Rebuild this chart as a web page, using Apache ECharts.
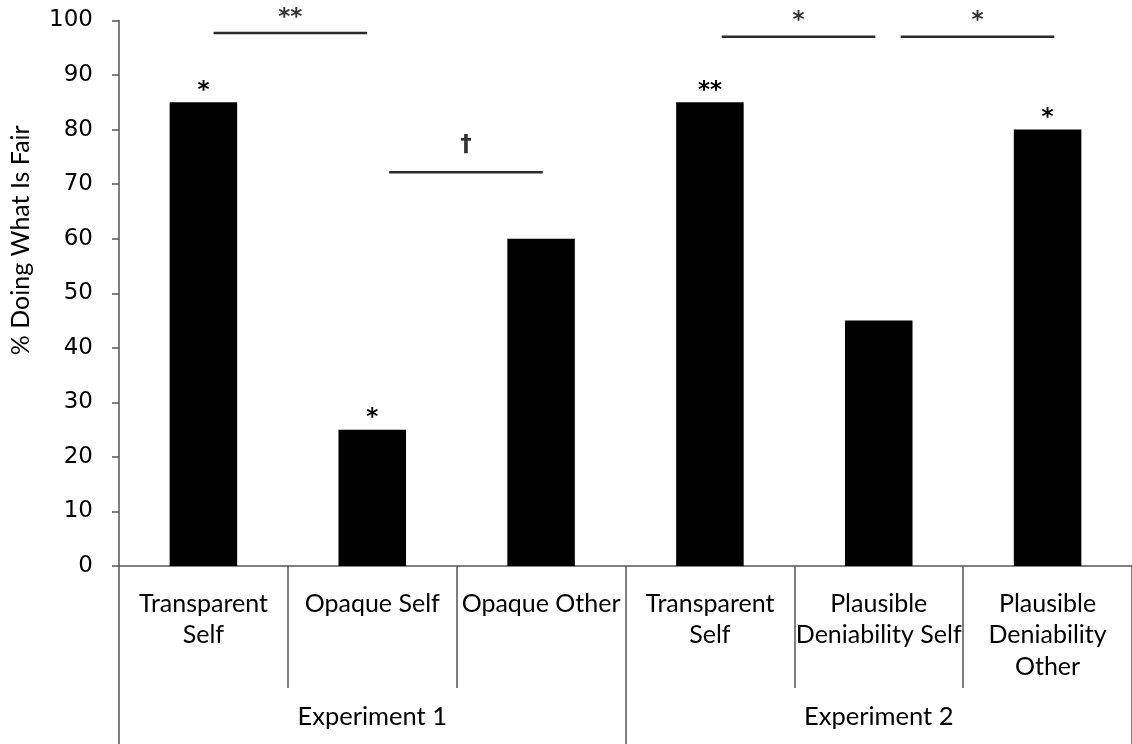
<!DOCTYPE html>
<html>
<head>
<meta charset="utf-8">
<script src="https://cdn.jsdelivr.net/npm/echarts@6/dist/echarts.min.js"></script>
<style>html,body{margin:0;padding:0;background:#fff}#c{width:1132px;height:744px}</style>
</head>
<body>
<div id="c"></div>
<script>
const categories = ['Transparent\nSelf', 'Opaque Self', 'Opaque Other', 'Transparent\nSelf', 'Plausible\nDeniability Self', 'Plausible\nDeniability\nOther'];
const groups = ['Experiment 1', 'Experiment 2'];
const values = [85, 25, 60, 85, 45, 80];
const barMarks = ['*', '*', '', '**', '', '*'];
const sigFrom = [0.06, 1.10, 3.07, 4.13];
const sigTo = [0.97, 2.01, 3.98, 5.04];
const sigY = [97.7, 72.2, 97.0, 97.0];
const sigMarks = ['**', '\u2020', '*', '*'];
const yAxisTitle = '% Doing What Is Fair';

const labelFont = 'Lato, "Open Sans", sans-serif';
const chart = echarts.init(document.getElementById('c'));

const sigLineSeries = sigFrom.map((f, i) => ({
  type: 'line', xAxisIndex: 2, yAxisIndex: 0,
  data: [[f, sigY[i]], [sigTo[i], sigY[i]]],
  symbol: 'none', silent: true, animation: false,
  lineStyle: { color: '#2b2b2b', width: 2.5 }
}));

chart.setOption({
  animation: false,
  backgroundColor: '#fff',
  grid: { left: 119, top: 20.5, bottom: 178, width: 1025, containLabel: false },
  xAxis: [
    {
      type: 'category', data: categories, position: 'bottom',
      axisLine: { show: true, onZero: false, lineStyle: { color: '#555', width: 1.5 } },
      axisTick: { show: true, interval: 0, length: 122, lineStyle: { color: '#555', width: 1.5 } },
      axisLabel: { interval: 0, margin: 22, color: '#000', fontFamily: labelFont, fontSize: 25, lineHeight: 31.5, verticalAlign: 'top' },
      splitLine: { show: false }
    },
    {
      type: 'category', data: groups, position: 'bottom',
      axisLine: { show: false, onZero: false },
      axisTick: { show: true, interval: 0, length: 180, lineStyle: { color: '#555', width: 1.5 } },
      axisLabel: { interval: 0, margin: 138, color: '#000', fontFamily: labelFont, fontSize: 25.5, verticalAlign: 'top' },
      splitLine: { show: false }
    },
    { type: 'value', min: -0.5, max: 5.5, show: false }
  ],
  yAxis: {
    type: 'value', min: 0, max: 100, interval: 10,
    name: yAxisTitle, nameLocation: 'middle', nameRotate: 90, nameGap: 86,
    nameTextStyle: { color: '#000', fontFamily: labelFont, fontSize: 25, padding: [0, 0, 0, 106] },
    axisLine: { show: true, onZero: false, lineStyle: { color: '#555', width: 1.5 } },
    axisTick: { show: true, length: 7, lineStyle: { color: '#555', width: 1.5 } },
    axisLabel: { color: '#000', fontFamily: '"DejaVu Sans", Verdana, sans-serif', fontSize: 23, margin: 26 },
    splitLine: { show: false }
  },
  series: [
    {
      type: 'bar', xAxisIndex: 0, data: values, barWidth: '40%',
      itemStyle: { color: '#000' },
      label: {
        show: true, position: 'top', distance: 0, color: '#000',
        fontFamily: '"DejaVu Sans", sans-serif', fontSize: 23, fontWeight: 'bold',
        formatter: p => barMarks[p.dataIndex]
      }
    },
    ...sigLineSeries,
    {
      type: 'scatter', xAxisIndex: 2, yAxisIndex: 0, symbolSize: 0, silent: true,
      data: sigFrom.map((f, i) => ({
        value: [(f + sigTo[i]) / 2, sigY[i], sigMarks[i]],
        label: { distance: sigMarks[i] === '\u2020' ? 16 : 4 }
      })),
      label: {
        show: true, position: 'top', color: '#000',
        fontFamily: '"DejaVu Sans", sans-serif', fontSize: 23, fontWeight: 'bold',
        formatter: p => p.value[2]
      }
    }
  ]
});
</script>
</body>
</html>
